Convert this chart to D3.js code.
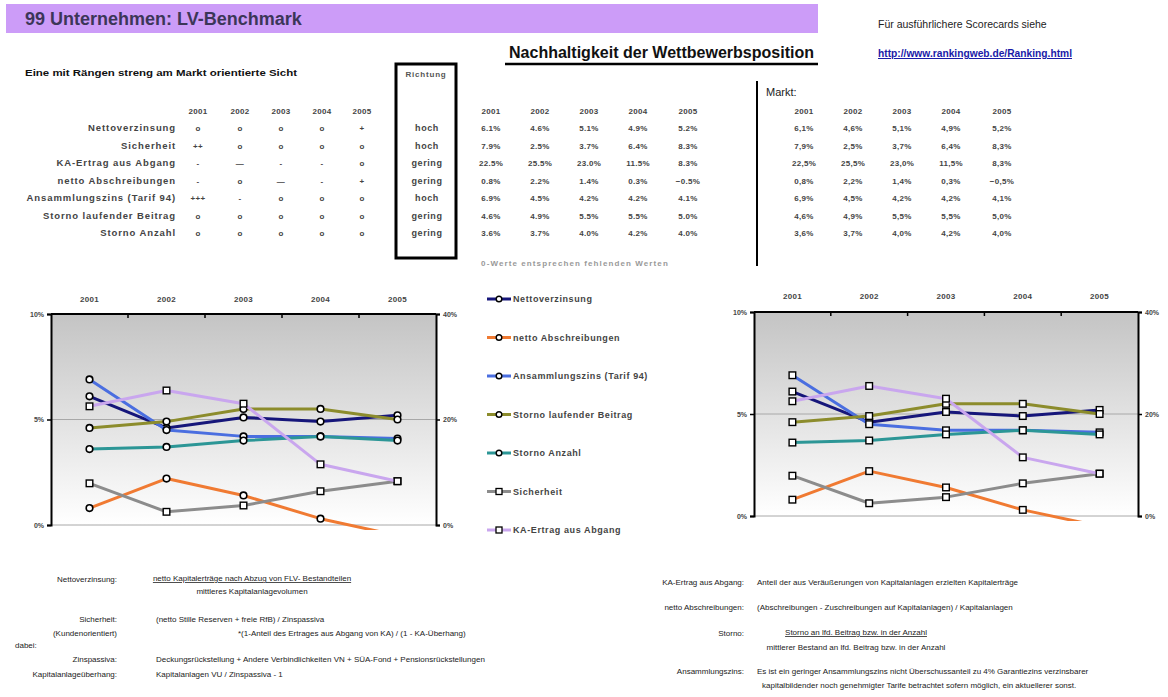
<!DOCTYPE html>
<html>
<head>
<meta charset="utf-8">
<script src="https://cdn.jsdelivr.net/npm/d3@7"></script>
<style>
  body { margin: 0; background: #fff; }
  text { font-family: "Liberation Sans", Arial, sans-serif; }
</style>
</head>
<body>
<svg id="page" width="1168" height="697"></svg>
<script>
var years = ["2001", "2002", "2003", "2004", "2005"];

var indicators = ["Nettoverzinsung", "Sicherheit", "KA-Ertrag aus Abgang", "netto Abschreibungen",
                  "Ansammlungszins (Tarif 94)", "Storno laufender Beitrag", "Storno Anzahl"];

var rankMarks = [
  ["o", "o", "o", "o", "+"],
  ["++", "o", "o", "o", "o"],
  ["-", "\u2014", "-", "-", "o"],
  ["-", "o", "\u2014", "-", "+"],
  ["+++", "-", "o", "o", "o"],
  ["o", "o", "o", "o", "o"],
  ["o", "o", "o", "o", "o"]
];

var directions = ["hoch", "hoch", "gering", "gering", "hoch", "gering", "gering"];

// company values (%)
var nettoverzinsung = [6.1, 4.6, 5.1, 4.9, 5.2];
var sicherheit      = [7.9, 2.5, 3.7, 6.4, 8.3];
var kaErtrag        = [22.5, 25.5, 23.0, 11.5, 8.3];
var nettoAbschr     = [0.8, 2.2, 1.4, 0.3, -0.5];
var ansammlungszins = [6.9, 4.5, 4.2, 4.2, 4.1];
var stornoBeitrag   = [4.6, 4.9, 5.5, 5.5, 5.0];
var stornoAnzahl    = [3.6, 3.7, 4.0, 4.2, 4.0];

// market values (%)
var marktNettoverzinsung = [6.1, 4.6, 5.1, 4.9, 5.2];
var marktSicherheit      = [7.9, 2.5, 3.7, 6.4, 8.3];
var marktKaErtrag        = [22.5, 25.5, 23.0, 11.5, 8.3];
var marktNettoAbschr     = [0.8, 2.2, 1.4, 0.3, -0.5];
var marktAnsammlungszins = [6.9, 4.5, 4.2, 4.2, 4.1];
var marktStornoBeitrag   = [4.6, 4.9, 5.5, 5.5, 5.0];
var marktStornoAnzahl    = [3.6, 3.7, 4.0, 4.2, 4.0];

var companyRows = [nettoverzinsung, sicherheit, kaErtrag, nettoAbschr, ansammlungszins, stornoBeitrag, stornoAnzahl];
var marketRows  = [marktNettoverzinsung, marktSicherheit, marktKaErtrag, marktNettoAbschr, marktAnsammlungszins, marktStornoBeitrag, marktStornoAnzahl];

// chart series in legend order
var seriesNames = ["Nettoverzinsung", "netto Abschreibungen", "Ansammlungszins (Tarif 94)",
                   "Storno laufender Beitrag", "Storno Anzahl", "Sicherheit", "KA-Ertrag aus Abgang"];
var seriesColors = ["#16167a", "#f07a32", "#4a6ee0", "#8c8c2c", "#2c9696", "#8c8c8c", "#c9a6ee"];
var secondarySeries = ["Sicherheit", "KA-Ertrag aus Abgang"];

var leftTicks = [0, 5, 10];
var rightTicks = [0, 20, 40];

var svg = d3.select("#page");
var fmt = d3.format(".1f");

// ---- header ----
svg.append("rect").attr("x", 6).attr("y", 4).attr("width", 812).attr("height", 29).attr("fill", "#cc9cf8");
svg.append("text").attr("x", 25).attr("y", 25).attr("font-size", 18).attr("font-weight", "bold")
  .attr("fill", "#3c3658").text("99 Unternehmen: LV-Benchmark");

svg.append("text").attr("x", 509).attr("y", 58).attr("font-size", 16).attr("font-weight", "bold")
  .attr("fill", "#111").attr("textLength", 305).attr("lengthAdjust", "spacingAndGlyphs")
  .text("Nachhaltigkeit der Wettbewerbsposition");
svg.append("line").attr("x1", 505).attr("x2", 818).attr("y1", 64).attr("y2", 64)
  .attr("stroke", "#000").attr("stroke-width", 2.5);

svg.append("text").attr("x", 878).attr("y", 28).attr("font-size", 10.5).attr("fill", "#222")
  .text("F\u00fcr ausf\u00fchrlichere Scorecards siehe");
svg.append("text").attr("x", 878).attr("y", 57).attr("font-size", 10).attr("font-weight", "bold")
  .attr("fill", "#1a1aa8").attr("text-decoration", "underline")
  .attr("textLength", 194).attr("lengthAdjust", "spacingAndGlyphs")
  .text("http://www.rankingweb.de/Ranking.html");

svg.append("text").attr("x", 25).attr("y", 76).attr("font-size", 9.5).attr("font-weight", "bold")
  .attr("fill", "#111").attr("textLength", 272).attr("lengthAdjust", "spacingAndGlyphs")
  .text("Eine mit R\u00e4ngen streng am Markt orientierte Sicht");

// Richtung box
svg.append("rect").attr("x", 396).attr("y", 64).attr("width", 60).attr("height", 194)
  .attr("fill", "none").attr("stroke", "#000").attr("stroke-width", 3);
svg.append("text").attr("x", 426).attr("y", 77).attr("text-anchor", "middle").attr("font-size", 8)
  .attr("letter-spacing", 0.8).attr("font-weight", "bold").attr("fill", "#555").text("Richtung");

// Markt divider
svg.append("line").attr("x1", 757).attr("x2", 757).attr("y1", 81).attr("y2", 266)
  .attr("stroke", "#000").attr("stroke-width", 2);
svg.append("text").attr("x", 766).attr("y", 96).attr("font-size", 11).attr("fill", "#222").text("Markt:");

// ---- tables ----
var rowY = d3.scalePoint().domain(indicators).range([131, 236]);
var headerY = 114;

function table(xs, cellText) {
  var g = svg.append("g").attr("font-size", 8).attr("fill", "#444").attr("font-weight", "bold")
    .attr("letter-spacing", 0.3);
  g.selectAll(".yr").data(years).enter().append("text")
    .attr("x", function (d, i) { return xs[i]; }).attr("y", headerY)
    .attr("text-anchor", "middle").text(function (d) { return d; });
  indicators.forEach(function (name, r) {
    g.selectAll(".c" + r).data(years).enter().append("text")
      .attr("x", function (d, i) { return xs[i]; }).attr("y", rowY(name))
      .attr("text-anchor", "middle")
      .text(function (d, i) { return cellText(r, i); });
  });
  return g;
}

// rank table
var rankG = table([198, 240, 281, 322, 362], function (r, i) { return rankMarks[r][i]; });
rankG.selectAll(".lab").data(indicators).enter().append("text")
  .attr("x", 176).attr("y", function (d) { return rowY(d); })
  .attr("text-anchor", "end").attr("font-size", 9.5).attr("letter-spacing", 0.9)
  .text(function (d) { return d; });
rankG.selectAll(".dir").data(directions).enter().append("text")
  .attr("x", 427).attr("y", function (d, i) { return rowY(indicators[i]); })
  .attr("text-anchor", "middle").attr("font-size", 9).attr("letter-spacing", 0.6)
  .text(function (d) { return d; });

// company table
table([491, 540, 589, 638, 688], function (r, i) { return fmt(companyRows[r][i]) + "%"; });
// market table
table([804, 853, 902, 951, 1002], function (r, i) { return fmt(marketRows[r][i]).replace(".", ",") + "%"; });

svg.append("text").attr("x", 575).attr("y", 266).attr("text-anchor", "middle").attr("font-size", 8)
  .attr("letter-spacing", 1.1).attr("font-weight", "bold").attr("fill", "#999")
  .text("0-Werte entsprechen fehlenden Werten");

// ---- charts ----
var defs = svg.append("defs");
var grad = defs.append("linearGradient").attr("id", "plotBg").attr("x1", 0).attr("x2", 0).attr("y1", 0).attr("y2", 1);
grad.append("stop").attr("offset", "0%").attr("stop-color", "#c4c4c4");
grad.append("stop").attr("offset", "100%").attr("stop-color", "#ffffff");

function drawChart(id, box, markerFor) {
  var x = d3.scaleBand().domain(years).range([box.left, box.right]);
  var yL = d3.scaleLinear().domain([0, 10]).range([box.bottom, box.top]);
  var yR = d3.scaleLinear().domain([0, 40]).range([box.bottom, box.top]);
  var g = svg.append("g");

  g.append("rect").attr("x", box.left).attr("y", box.top)
    .attr("width", box.right - box.left).attr("height", box.bottom - box.top).attr("fill", "url(#plotBg)");

  [5, 0].forEach(function (v) {
    g.append("line").attr("x1", box.left).attr("x2", box.right)
      .attr("y1", yL(v)).attr("y2", yL(v)).attr("stroke", "#a8a8a8").attr("stroke-width", 1);
  });

  // year labels on top
  var top = g.append("g").attr("transform", "translate(0," + box.top + ")")
    .call(d3.axisTop(x).tickSize(0).tickPadding(box.labelGap));
  top.select(".domain").remove();
  top.selectAll("text").attr("font-size", 8).attr("font-weight", "bold").attr("fill", "#444")
    .attr("letter-spacing", 0.3).attr("font-family", "Liberation Sans, Arial, sans-serif");

  // top axis line with ticks between categories
  g.append("line").attr("x1", box.left).attr("x2", box.right).attr("y1", box.top).attr("y2", box.top)
    .attr("stroke", "#000").attr("stroke-width", 2);
  g.selectAll(".bt").data(years.slice(1)).enter().append("line")
    .attr("x1", function (d) { return x(d); }).attr("x2", function (d) { return x(d); })
    .attr("y1", box.top).attr("y2", box.top + 4).attr("stroke", "#000").attr("stroke-width", 1.5);

  // value axes
  var la = g.append("g").attr("transform", "translate(" + box.left + ",0)")
    .call(d3.axisLeft(yL).tickValues(leftTicks).tickSize(4).tickFormat(function (d) { return d + "%"; }));
  var ra = g.append("g").attr("transform", "translate(" + box.right + ",0)")
    .call(d3.axisRight(yR).tickValues(rightTicks).tickSize(4).tickFormat(function (d) { return d + "%"; }));
  [la, ra].forEach(function (a) {
    a.select(".domain").attr("stroke-width", 2);
    a.selectAll(".tick line").attr("stroke-width", 1.5);
    a.selectAll("text").attr("font-size", 7).attr("font-weight", "bold").attr("fill", "#444")
      .attr("font-family", "Liberation Sans, Arial, sans-serif");
  });

  defs.append("clipPath").attr("id", "clip" + id).append("rect")
    .attr("x", box.left).attr("y", box.top).attr("width", box.right - box.left).attr("height", box.bottom - box.top + 5);

  var plot = g.append("g").attr("clip-path", "url(#clip" + id + ")");
  var rows = box.rows;

  seriesNames.forEach(function (name, s) {
    var vals = rows[indicators.indexOf(name)];
    var y = secondarySeries.indexOf(name) >= 0 ? yR : yL;
    var line = d3.line()
      .x(function (d, i) { return x(years[i]) + x.bandwidth() / 2; })
      .y(function (d) { return y(d); });
    plot.append("path").datum(vals).attr("d", line).attr("fill", "none")
      .attr("stroke", seriesColors[s]).attr("stroke-width", 3).attr("stroke-linejoin", "round");

    var pts = plot.selectAll(".m" + s).data(vals).enter();
    if (markerFor(name) === "circle") {
      pts.append("circle")
        .attr("cx", function (d, i) { return x(years[i]) + x.bandwidth() / 2; })
        .attr("cy", function (d) { return y(d); })
        .attr("r", 3.3).attr("fill", "#fff").attr("stroke", "#000").attr("stroke-width", 1.6);
    } else {
      pts.append("rect")
        .attr("x", function (d, i) { return x(years[i]) + x.bandwidth() / 2 - 3.3; })
        .attr("y", function (d) { return y(d) - 3.3; })
        .attr("width", 6.6).attr("height", 6.6).attr("fill", "#fff").attr("stroke", "#000").attr("stroke-width", 1.4);
    }
  });
}

drawChart("L", { left: 51, right: 436, top: 314, bottom: 525, labelGap: 12, rows: companyRows },
  function (name) { return secondarySeries.indexOf(name) >= 0 ? "square" : "circle"; });
drawChart("R", { left: 754, right: 1138, top: 312, bottom: 516, labelGap: 13, rows: marketRows },
  function () { return "square"; });

// legend
var legY = d3.scalePoint().domain(seriesNames).range([299, 530]);
var leg = svg.append("g");
seriesNames.forEach(function (name, s) {
  var y = legY(name);
  leg.append("line").attr("x1", 487).attr("x2", 511).attr("y1", y).attr("y2", y)
    .attr("stroke", seriesColors[s]).attr("stroke-width", 3);
  if (s < 5) {
    leg.append("circle").attr("cx", 499).attr("cy", y).attr("r", 2.8).attr("fill", "#fff")
      .attr("stroke", "#000").attr("stroke-width", 1.4);
  } else {
    leg.append("rect").attr("x", 496).attr("y", y - 3).attr("width", 6).attr("height", 6)
      .attr("fill", "#fff").attr("stroke", "#000").attr("stroke-width", 1.3);
  }
  leg.append("text").attr("x", 513).attr("y", y + 3).attr("font-size", 9).attr("font-weight", "bold")
    .attr("letter-spacing", 0.6).attr("fill", "#444").text(name);
});

// ---- definitions at the bottom ----
var notes = svg.append("g").attr("font-size", 8).attr("fill", "#222");
function note(x, y, str, anchor, underline) {
  var t = notes.append("text").attr("x", x).attr("y", y).attr("text-anchor", anchor || "start").text(str);
  if (underline) t.attr("text-decoration", "underline");
  return t;
}
note(117, 582, "Nettoverzinsung:", "end");
note(252, 581, "netto Kapitalertr\u00e4ge nach Abzug von FLV- Bestandteilen", "middle", true);
note(252, 594, "mittleres Kapitalanlagevolumen", "middle");
note(117, 622, "Sicherheit:", "end");
note(156, 622, "(netto Stille Reserven + freie RfB) / Zinspassiva");
note(117, 636, "(Kundenorientiert)", "end");
note(238, 636, "*(1-Anteil des Ertrages aus Abgang von KA) / (1 - KA-\u00dcberhang)");
note(15, 648, "dabei:");
note(117, 662, "Zinspassiva:", "end");
note(156, 662, "Deckungsr\u00fcckstellung + Andere Verbindlichkeiten VN + S\u00dcA-Fond + Pensionsr\u00fcckstellungen");
note(117, 677, "Kapitalanlage\u00fcberhang:", "end");
note(156, 677, "Kapitalanlagen VU / Zinspassiva - 1");

note(744, 585, "KA-Ertrag aus Abgang:", "end");
note(757, 585, "Anteil der aus Ver\u00e4u\u00dferungen von Kapitalanlagen erzielten Kapitalertr\u00e4ge");
note(744, 610, "netto Abschreibungen:", "end");
note(757, 610, "(Abschreibungen - Zuschreibungen auf Kapitalanlagen) / Kapitalanlagen");
note(744, 636, "Storno:", "end");
note(856, 635, "Storno an lfd. Beitrag bzw. in der  Anzahl", "middle", true);
note(856, 650, "mittlerer Bestand an lfd. Beitrag bzw. in der Anzahl", "middle");
note(744, 674, "Ansammlungszins:", "end");
note(757, 674, "Es ist ein geringer Ansammlungszins nicht \u00dcberschussanteil zu 4% Garantiezins verzinsbarer");
note(762, 688, "kapitalbildender noch genehmigter Tarife betrachtet sofern m\u00f6glich, ein aktuellerer sonst.");
</script>
</body>
</html>
